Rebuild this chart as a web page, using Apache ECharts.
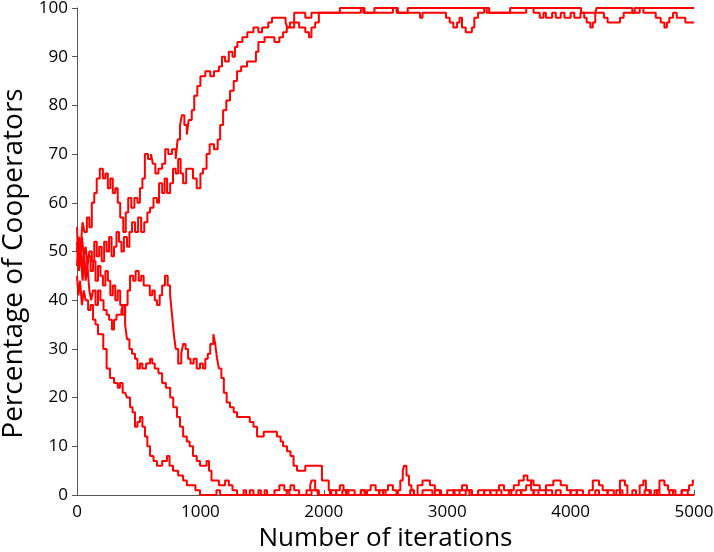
<!DOCTYPE html>
<html>
<head>
<meta charset="utf-8">
<script src="https://cdn.jsdelivr.net/npm/echarts@6/dist/echarts.min.js"></script>
<style>
  html, body { margin: 0; padding: 0; background: #fff; }
  #chart { width: 714px; height: 552px; }
</style>
</head>
<body>
<div id="chart"></div>
<script>
// x ticks and y ticks
const xTicks = [0, 1000, 2000, 3000, 4000, 5000]
const yTicks = [0, 10, 20, 30, 40, 50, 60, 70, 80, 90, 100]

// each run: [iteration, percentage of cooperators]
const runUp1 = [
  [0,50],[15,53],[30,51],[45,56],[60,54],[80,57],[100,55],[120,60],[140,62],[160,65],[185,67],[210,65],
  [230,66],[250,63],[270,65],[290,62],[310,63],[330,60],[350,57],[375,54],[395,58],[415,61],[440,59],
  [465,61],[490,60],[510,63],[530,65],[550,70],[575,69],[600,70],[615,68],[635,66],[660,67],[690,68],
  [715,71],[740,70],[770,71],[800,69],[815,73],[835,76],[850,78],[870,76],[890,74],[905,77],[930,79],
  [950,82],[975,84],[1000,86],[1040,87],[1080,86],[1110,87],[1150,88],[1175,90],[1200,89],[1230,91],
  [1260,90],[1280,92],[1300,93],[1340,94],[1380,95],[1430,96],[1470,95],[1500,96],[1550,97],[1580,98],
  [1650,98],[1690,97],[1705,96],[1725,97],[1760,99],[1850,98],[1900,99],[2130,100],[2320,99],[2410,100],
  [2590,99],[2680,100],[3320,99],[3510,100],[4085,99],[4110,98],[4130,97],[4160,96],[4180,97],[4200,99],
  [4210,100],[4500,99],[4520,100],[5000,100]
]
const runUp2 = [
  [0,47],[10,52],[25,48],[40,53],[55,49],[70,51],[85,47],[100,50],[120,48],[140,52],[160,49],[180,51],
  [200,48],[220,52],[240,50],[260,53],[280,49],[300,51],[320,54],[340,52],[360,50],[380,53],[405,51],
  [425,54],[446,56],[470,54],[495,57],[520,54],[545,56],[570,58],[592,59],[620,61],[648,60],[665,64],
  [690,62],[710,65],[730,62],[755,64],[778,67],[800,66],[820,69],[840,66],[860,64],[885,67],[913,67],
  [940,65],[970,63],[1000,66],[1021,67],[1050,70],[1075,72],[1110,71],[1140,73],[1160,76],[1184,79],
  [1210,81],[1240,83],[1270,85],[1297,87],[1330,88],[1378,89],[1430,89],[1450,91],[1470,93],[1520,94],
  [1565,94],[1600,93],[1640,94],[1670,95],[1700,96],[1760,97],[1800,96],[1850,95],[1880,94],[1900,96],
  [1930,97],[1960,99],[2300,100],[2330,99],[2560,100],[2600,99],[2780,98],[2800,99],[2990,98],[3020,97],
  [3050,96],[3080,97],[3100,98],[3120,96],[3150,95],[3200,96],[3220,98],[3250,99],[3300,100],[3340,99],
  [3640,100],[3700,99],[3750,98],[3780,99],[3800,98],[3850,99],[3880,98],[3920,99],[3950,98],[4000,99],
  [4030,98],[4080,99],[4270,98],[4300,97],[4400,98],[4430,99],[4560,100],[4590,99],[4690,98],[4730,97],
  [4760,96],[4780,97],[4800,98],[4830,99],[4860,98],[4930,97],[5000,97]
]
const runLow1 = [
  [0,52],[15,46],[30,50],[45,44],[60,48],[75,45],[90,49],[110,46],[130,48],[150,44],[170,47],[190,45],
  [210,43],[230,46],[250,44],[270,41],[290,43],[310,40],[330,42],[350,39],[370,37],[390,39],[410,42],
  [430,45],[455,44],[475,46],[500,44],[520,45],[540,43],[567,43],[590,41],[610,42],[630,40],[648,39],
  [670,41],[690,43],[713,45],[735,43],[755,41],[770,37],[785,33],[800,30],[820,27],[845,29],[860,31],
  [880,30],[900,28],[920,27],[945,28],[970,26],[997,27],[1020,26],[1040,28],[1060,29],[1080,31],[1105,33],
  [1120,31],[1135,28],[1150,26],[1170,24],[1190,21],[1213,19],[1240,18],[1270,17],[1297,16],[1340,16],
  [1400,15],[1430,14],[1459,12],[1490,12],[1513,13],[1560,13],[1600,13],[1620,12],[1650,11],[1670,10],
  [1702,9],[1730,8],[1755,6],[1783,5],[1850,6],[1985,3],[2040,1],[2060,0],[2150,1],[2185,0],[2300,1],
  [2330,0],[2450,1],[2500,0],[2700,1],[2730,0],[2800,1],[2880,0],[3000,1],[3060,0],[3150,1],[3180,0],
  [3250,1],[3300,0],[3400,1],[3440,0],[3560,1],[3600,0],[3700,1],[3740,0],[3880,1],[3920,0],[4050,1],
  [4100,0],[4300,1],[4350,0],[4500,1],[4530,0],[4680,1],[4720,0],[4900,1],[4950,0],[5000,0]
]
const runLow2 = [
  [0,45],[12,41],[25,44],[40,39],[55,42],[70,40],[90,38],[110,39],[130,36],[150,35],[170,33],[190,33],
  [213,30],[240,26],[267,24],[300,23],[330,22],[348,23],[370,21],[390,21],[405,20],[430,18],[450,17],
  [470,14],[490,15],[510,16],[530,14],[551,12],[570,10],[592,8],[620,7],[648,6],[690,7],[729,8],[750,6],
  [778,5],[820,4],[860,3],[890,2],[930,2],[960,1],[997,0],[1130,1],[1160,0],[1400,1],[1430,0],[1520,1],
  [1540,0],[1700,1],[1730,2],[1760,1],[1800,0],[1900,1],[1950,0],[2100,1],[2130,2],[2160,1],[2200,0],
  [2350,1],[2380,2],[2420,1],[2450,0],[2600,1],[2620,3],[2640,5],[2650,6],[2670,4],[2690,2],[2710,1],
  [2730,0],[2900,1],[2950,0],[3100,1],[3200,0],[3300,1],[3350,0],[3500,1],[3540,2],[3580,3],[3620,4],
  [3650,3],[3680,1],[3700,0],[3800,1],[3850,0],[4000,1],[4050,0],[4200,1],[4230,0],[4400,1],[4420,0],
  [4600,1],[4650,0],[4800,1],[4850,0],[5000,0]
]
const runLow3 = [
  [0,55],[10,48],[25,52],[40,46],[55,50],[70,44],[85,47],[100,42],[115,40],[130,42],[150,39],[170,42],
  [190,40],[215,38],[240,37],[260,36],[283,34],[300,36],[320,37],[340,37],[360,38],[373,39],[390,35],
  [405,32],[425,30],[446,29],[470,28],[490,26],[510,27],[530,26],[560,27],[592,28],[610,27],[630,26],
  [660,25],[690,23],[720,22],[755,20],[780,18],[810,16],[835,14],[860,12],[890,11],[913,10],[940,8],
  [970,7],[997,6],[1050,7],[1070,5],[1090,3],[1150,2],[1200,3],[1230,2],[1260,1],[1297,0],[1350,1],
  [1370,0],[1470,1],[1490,0],[1600,1],[1640,2],[1680,1],[1720,0],[1860,1],[1890,2],[1900,3],[1930,1],
  [1960,0],[2050,1],[2100,0],[2180,1],[2250,0],[2300,1],[2340,0],[2480,1],[2520,2],[2560,1],[2590,0],
  [2760,2],[2800,3],[2860,2],[2900,1],[2940,0],[3050,1],[3120,2],[3160,1],[3200,0],[3350,1],[3420,2],
  [3460,1],[3520,0],[3600,1],[3640,2],[3680,3],[3700,2],[3750,1],[3800,2],[3860,3],[3920,2],[3970,1],
  [4000,0],[4150,1],[4180,3],[4230,2],[4260,1],[4300,0],[4370,1],[4400,3],[4440,2],[4460,0],[4560,2],
  [4590,3],[4610,1],[4640,0],[4700,1],[4720,3],[4760,2],[4790,1],[4830,0],[4900,1],[4960,2],[4990,3],
  [5000,3]
]

const runs = [runUp1, runUp2, runLow1, runLow2, runLow3]

const chart = echarts.init(document.getElementById('chart'))
const font = 'Open Sans'

const option = {
  animation: false,
  backgroundColor: '#fff',
  grid: { left: 77, right: 20, top: 8, bottom: 57, outerBoundsMode: 'none', containLabel: false },
  xAxis: {
    type: 'value',
    min: xTicks[0],
    max: xTicks[xTicks.length - 1],
    interval: 1000,
    name: 'Number of iterations',
    nameLocation: 'middle',
    nameGap: 28,
    nameTextStyle: { color: '#000', fontSize: 26, fontFamily: font },
    axisLine: { lineStyle: { color: '#555', width: 1 } },
    axisTick: { inside: true, length: 5, lineStyle: { color: '#555' } },
    axisLabel: { color: '#000', fontSize: 17, fontFamily: font, margin: 9, formatter: v => String(v) },
    splitLine: { show: false }
  },
  yAxis: {
    type: 'value',
    min: yTicks[0],
    max: yTicks[yTicks.length - 1],
    interval: 10,
    name: 'Percentage of Cooperators',
    nameLocation: 'middle',
    nameGap: 46,
    // shifted a little down, as in the source
    nameTextStyle: { color: '#000', fontSize: 28, fontFamily: font, padding: [0, 24, 0, 0] },
    axisLine: { show: true, lineStyle: { color: '#555', width: 1 } },
    axisTick: { show: true, length: 5, lineStyle: { color: '#555' } },
    axisLabel: { color: '#000', fontSize: 17, fontFamily: font, margin: 9, formatter: v => String(v) },
    splitLine: { show: false }
  },
  series: runs.map(run => ({
    type: 'line',
    step: 'end',
    data: run,
    showSymbol: false,
    lineStyle: { color: '#ff0000', width: 2 },
    itemStyle: { color: '#ff0000' }
  }))
}

chart.setOption(option)
</script>
</body>
</html>
